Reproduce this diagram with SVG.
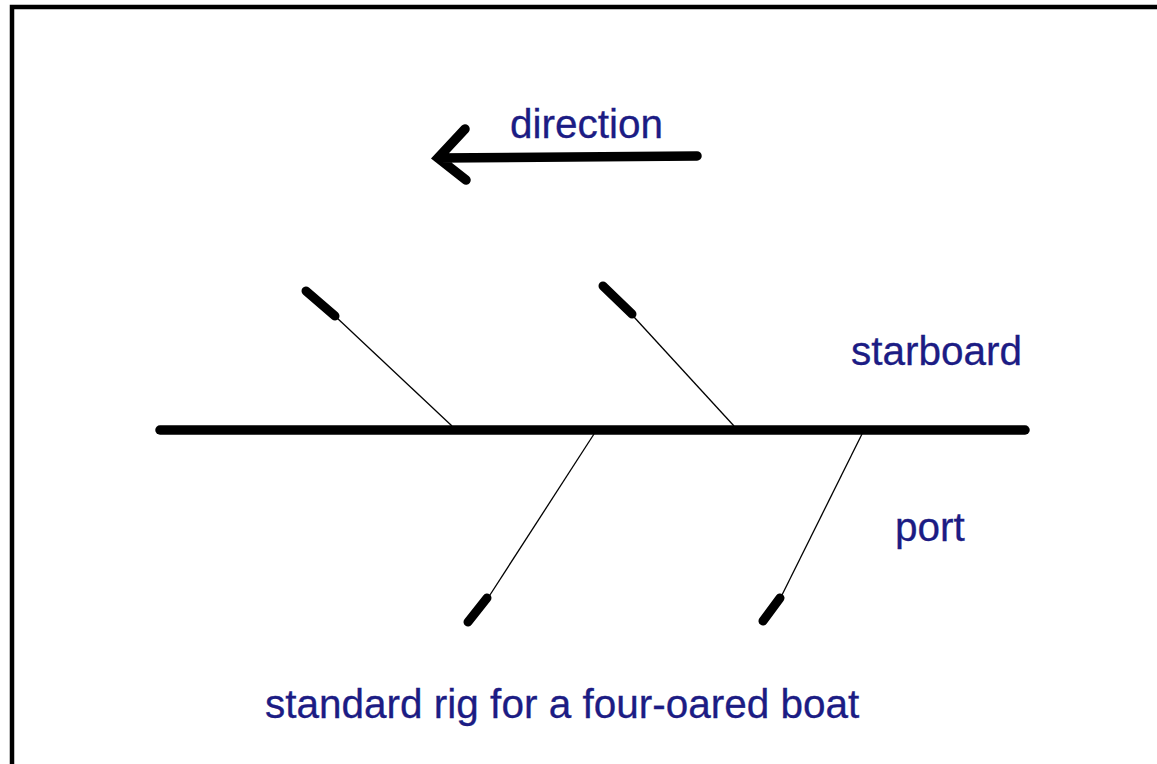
<svg xmlns="http://www.w3.org/2000/svg" width="1157" height="764" viewBox="0 0 1157 764">
<style>
.thick{stroke:#000;stroke-width:9.5;stroke-linecap:round;fill:none}
.blade{stroke:#000;stroke-width:9;stroke-linecap:round;fill:none}
.shaft{stroke:#000;stroke-width:1.3;fill:none}
.lbl{font-family:"Liberation Sans",Arial,sans-serif;font-size:40.5px;fill:#1c1c84;stroke:#1c1c84;stroke-width:0.3}
</style>
<rect width="1157" height="764" fill="#fff"/>
<path d="M12,764 L12,7 L1157,7" stroke="#000" stroke-width="4.5" fill="none"/>
<g id="direction-arrow">
<path class="thick" d="M697,156 L438,158 M465,129 L438,158 L466,180"/>
<text class="lbl" x="510" y="138">direction</text>
</g>
<g id="hull">
<line class="thick" x1="160" y1="430" x2="1025" y2="430"/>
</g>
<g id="oars">
<g id="oar-starboard-1"><line class="shaft" x1="336" y1="317" x2="452" y2="426"/><line class="blade" x1="306" y1="291" x2="335" y2="316"/></g>
<g id="oar-starboard-2"><line class="shaft" x1="634" y1="317" x2="734" y2="426"/><line class="blade" x1="603" y1="286" x2="632" y2="314"/></g>
<g id="oar-port-1"><line class="shaft" x1="594" y1="434" x2="488" y2="598"/><line class="blade" x1="487" y1="598" x2="468" y2="622"/></g>
<g id="oar-port-2"><line class="shaft" x1="862" y1="434" x2="781" y2="597"/><line class="blade" x1="780" y1="598" x2="763" y2="621"/></g>
</g>
<g id="labels">
<text class="lbl" x="851" y="365">starboard</text>
<text class="lbl" x="895" y="541">port</text>
<text class="lbl" x="265" y="718">standard rig for a four-oared boat</text>
</g>
</svg>
